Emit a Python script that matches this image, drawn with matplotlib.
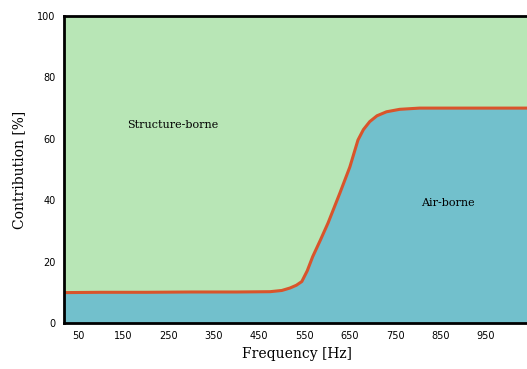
import numpy as np
import matplotlib
matplotlib.use('Agg')
import matplotlib.pyplot as plt

# frequency [Hz] and air-borne share [%]
freq = [19, 100, 200, 300, 400, 474, 500, 518, 532, 544, 556, 568, 585, 602, 628, 650,
        668, 680, 694, 710, 731, 760, 804, 900, 1000, 1050]
airborne = [9.9, 10.0, 10.0, 10.1, 10.1, 10.2, 10.6, 11.4, 12.3, 13.5, 17.0, 21.6, 27.0,
            32.6, 42.3, 50.8, 59.6, 63.0, 65.6, 67.5, 68.8, 69.6, 70.0, 70.0, 70.0, 70.0]

xticks = [50, 150, 250, 350, 450, 550, 650, 750, 850, 950]
yticks = [0, 20, 40, 60, 80, 100]

green = '#b8e6b6'
teal = '#72c0cc'
red = '#d9542b'

fig = plt.figure(figsize=(5.27, 3.69), dpi=100)
ax = fig.add_axes([64/527, 46/369, 467/527, 307/369])

ax.fill_between(freq, 0, airborne, color=teal, lw=0)
ax.fill_between(freq, airborne, 100, color=green, lw=0)
ax.plot(freq, airborne, color=red, lw=2.2, solid_joinstyle='round')

ax.set_xlim(19, 1050)
ax.set_ylim(0, 100)
ax.set_xticks(xticks)
ax.set_yticks(yticks)
ax.tick_params(length=0, labelsize=7, pad=6)

for s in ['top', 'left', 'bottom']:
    ax.spines[s].set_linewidth(2)
ax.spines['right'].set_visible(False)

ax.set_xlabel('Frequency [Hz]', family='DejaVu Serif', fontsize=10, labelpad=4)
ax.set_ylabel('Contribution [%]', family='DejaVu Serif', fontsize=10, labelpad=8)

ax.text(260, 64.5, 'Structure-borne', family='DejaVu Serif', fontsize=8,
        ha='center', va='center')
ax.text(866, 39, 'Air-borne', family='DejaVu Serif', fontsize=8,
        ha='center', va='center')

plt.savefig('out.png', dpi=100)
